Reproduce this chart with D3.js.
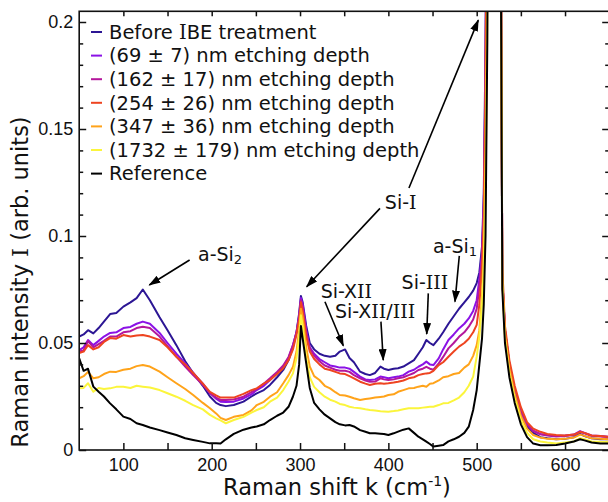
<!DOCTYPE html>
<meta charset="utf-8">
<html>
<head>
    <title>Raman spectra after IBE</title>
    <style>
        body { margin: 0; background: #fff; }
        .tick text { font-family: "Liberation Sans", Arial, sans-serif; font-size: 18px; fill: #111; }
        .lbl { font-family: "DejaVu Sans", Verdana, sans-serif; fill: #111; }
        .serifI { font-family: "DejaVu Serif", serif; }
    </style>
    <script src="https://d3js.org/d3.v7.min.js"></script>
</head>
<body>
<div id="chart"></div>
<script>
    // Raman shift sample positions (cm^-1), shared by every spectrum
    var ramanShift = [50, 55, 60, 66, 72, 78, 85, 92, 100, 108, 115, 122, 130, 141, 150, 160, 170, 179, 190, 198,
        205, 210, 216, 225, 236, 245, 251, 259, 266, 274, 281, 287, 292, 296, 299, 301, 303, 307, 311, 316,
        322, 328, 334, 340, 345, 351, 356, 361, 368, 374, 379, 385, 391, 395, 400, 406, 411, 417, 423, 429,
        434, 439, 443, 447, 451, 457, 462, 468, 474, 480, 486, 491, 496, 500, 503, 506, 508, 510, 512, 515,
        518, 521, 524, 527, 529, 532, 537, 543, 550, 557, 564, 572, 580, 590, 600, 610, 617, 622, 630, 640, 650];

    var beforeIBE = [0.053, 0.054, 0.056, 0.0545, 0.057, 0.060, 0.0635, 0.064, 0.067, 0.069, 0.071, 0.075, 0.070, 0.062, 0.056, 0.049, 0.0415, 0.036, 0.030, 0.025,
        0.022, 0.021, 0.0205, 0.021, 0.0226, 0.025, 0.0265, 0.028, 0.0304, 0.034, 0.0374, 0.042, 0.048, 0.055, 0.064, 0.072, 0.069, 0.058, 0.050, 0.047,
        0.045, 0.044, 0.0436, 0.044, 0.046, 0.047, 0.043, 0.041, 0.0366, 0.0355, 0.035, 0.036, 0.039, 0.038, 0.0374, 0.038, 0.0382, 0.039, 0.0405, 0.042,
        0.045, 0.048, 0.0514, 0.050, 0.049, 0.052, 0.055, 0.059, 0.0625, 0.066, 0.069, 0.0715, 0.0745, 0.078, 0.083, 0.095, 0.12, 0.19, 0.32, 0.62,
        1.0, 0.9, 0.6, 0.28, 0.08, 0.056, 0.040, 0.027, 0.017, 0.011, 0.008, 0.006, 0.0055, 0.005, 0.0052, 0.006, 0.0075, 0.0065, 0.0055, 0.005, 0.005];

    var depth69 = [0.0467, 0.048, 0.0514, 0.049, 0.051, 0.053, 0.0547, 0.055, 0.057, 0.0575, 0.059, 0.060, 0.059, 0.0547, 0.050, 0.045, 0.0405, 0.036, 0.031, 0.0266,
        0.024, 0.0226, 0.0224, 0.0226, 0.0241, 0.026, 0.028, 0.030, 0.0327, 0.036, 0.039, 0.043, 0.049, 0.055, 0.063, 0.071, 0.068, 0.056, 0.048, 0.045,
        0.0425, 0.041, 0.0395, 0.039, 0.0385, 0.0385, 0.038, 0.0365, 0.0343, 0.033, 0.0327, 0.033, 0.0343, 0.034, 0.0335, 0.034, 0.0343, 0.035, 0.0366, 0.0375,
        0.0389, 0.040, 0.0413, 0.040, 0.0397, 0.0428, 0.047, 0.0514, 0.054, 0.0568, 0.059, 0.0615, 0.065, 0.070, 0.080, 0.092, 0.115, 0.18, 0.30, 0.60,
        1.0, 0.9, 0.6, 0.28, 0.08, 0.056, 0.040, 0.028, 0.018, 0.012, 0.009, 0.0075, 0.007, 0.0065, 0.0068, 0.0072, 0.0088, 0.008, 0.0068, 0.0065, 0.0062];

    var depth162 = [0.046, 0.0465, 0.0509, 0.048, 0.0495, 0.051, 0.053, 0.053, 0.055, 0.0555, 0.057, 0.0576, 0.057, 0.053, 0.0485, 0.0436, 0.039, 0.035, 0.0305, 0.0266,
        0.0245, 0.0234, 0.0234, 0.0236, 0.0249, 0.027, 0.0285, 0.031, 0.0335, 0.0365, 0.0395, 0.0435, 0.049, 0.055, 0.062, 0.070, 0.067, 0.055, 0.0475, 0.044,
        0.0415, 0.0395, 0.0385, 0.0375, 0.037, 0.037, 0.0365, 0.035, 0.0335, 0.0325, 0.0319, 0.032, 0.0335, 0.033, 0.0327, 0.033, 0.0335, 0.034, 0.035, 0.036,
        0.0374, 0.038, 0.0389, 0.038, 0.0375, 0.0405, 0.0435, 0.0475, 0.050, 0.0529, 0.055, 0.0576, 0.061, 0.066, 0.076, 0.090, 0.112, 0.175, 0.30, 0.60,
        1.0, 0.9, 0.6, 0.28, 0.08, 0.056, 0.040, 0.028, 0.018, 0.012, 0.0088, 0.0073, 0.0068, 0.0063, 0.0065, 0.007, 0.0085, 0.0078, 0.0066, 0.0063, 0.006];

    var depth254 = [0.0453, 0.046, 0.049, 0.047, 0.048, 0.0505, 0.0523, 0.052, 0.0537, 0.053, 0.0535, 0.0537, 0.053, 0.0514, 0.048, 0.0436, 0.040, 0.036, 0.031, 0.0272,
        0.0255, 0.0245, 0.0245, 0.0245, 0.0262, 0.028, 0.0288, 0.031, 0.0327, 0.0355, 0.0382, 0.042, 0.047, 0.054, 0.061, 0.069, 0.065, 0.053, 0.046, 0.0425,
        0.040, 0.038, 0.0374, 0.0365, 0.0358, 0.0355, 0.0345, 0.0335, 0.0319, 0.031, 0.0304, 0.031, 0.0312, 0.031, 0.0312, 0.0315, 0.0319, 0.0325, 0.0335, 0.034,
        0.035, 0.0355, 0.0358, 0.036, 0.037, 0.0397, 0.041, 0.0436, 0.046, 0.0483, 0.050, 0.052, 0.055, 0.0585, 0.068, 0.085, 0.108, 0.17, 0.30, 0.60,
        1.0, 0.9, 0.6, 0.28, 0.085, 0.058, 0.042, 0.030, 0.020, 0.013, 0.010, 0.0085, 0.0075, 0.007, 0.0068, 0.0072, 0.0085, 0.008, 0.0068, 0.0065, 0.0062];

    var depth347 = [0.0335, 0.0345, 0.0365, 0.0335, 0.034, 0.0355, 0.0366, 0.0365, 0.0375, 0.038, 0.0392, 0.0397, 0.039, 0.0366, 0.034, 0.0312, 0.0285, 0.0257, 0.022, 0.0195,
        0.0171, 0.015, 0.014, 0.0155, 0.0164, 0.0185, 0.021, 0.0225, 0.0249, 0.027, 0.0312, 0.035, 0.0389, 0.046, 0.056, 0.066, 0.062, 0.048, 0.039, 0.0345,
        0.0327, 0.030, 0.0288, 0.027, 0.0257, 0.0255, 0.0249, 0.0242, 0.0234, 0.0238, 0.0241, 0.0245, 0.0248, 0.025, 0.0257, 0.026, 0.0272, 0.028, 0.0288, 0.029,
        0.0296, 0.030, 0.0296, 0.031, 0.0312, 0.0325, 0.034, 0.0345, 0.0355, 0.036, 0.0385, 0.040, 0.044, 0.049, 0.056, 0.072, 0.092, 0.14, 0.22, 0.50,
        1.0, 0.9, 0.6, 0.28, 0.08, 0.054, 0.038, 0.026, 0.016, 0.010, 0.007, 0.0058, 0.0052, 0.005, 0.0052, 0.0058, 0.0072, 0.0066, 0.0055, 0.0052, 0.005];

    var depth1732 = [0.0288, 0.029, 0.0312, 0.0272, 0.029, 0.0285, 0.0288, 0.0295, 0.0296, 0.029, 0.030, 0.0296, 0.0292, 0.028, 0.0265, 0.0249, 0.023, 0.021, 0.019, 0.0164,
        0.0148, 0.0138, 0.0125, 0.014, 0.0155, 0.0175, 0.0187, 0.020, 0.0226, 0.0245, 0.028, 0.032, 0.0358, 0.043, 0.053, 0.063, 0.058, 0.043, 0.034, 0.0295,
        0.027, 0.0249, 0.0235, 0.0226, 0.0215, 0.021, 0.0202, 0.0198, 0.0195, 0.019, 0.0187, 0.0185, 0.0181, 0.018, 0.0179, 0.0182, 0.0185, 0.019, 0.0195, 0.0195,
        0.0195, 0.0198, 0.020, 0.0202, 0.0202, 0.021, 0.0218, 0.022, 0.0232, 0.0245, 0.027, 0.030, 0.0343, 0.0436, 0.053, 0.068, 0.085, 0.12, 0.20, 0.45,
        1.0, 0.9, 0.6, 0.27, 0.078, 0.052, 0.036, 0.024, 0.014, 0.008, 0.005, 0.004, 0.0035, 0.003, 0.0035, 0.004, 0.0055, 0.005, 0.004, 0.0038, 0.0037];

    var reference = [0.0428, 0.037, 0.038, 0.0296, 0.0272, 0.025, 0.0218, 0.019, 0.0156, 0.0145, 0.0125, 0.0117, 0.0105, 0.0093, 0.0082, 0.007, 0.0055, 0.0047, 0.0038, 0.0031,
        0.0032, 0.003, 0.005, 0.0075, 0.0095, 0.0105, 0.011, 0.012, 0.014, 0.016, 0.0175, 0.0202, 0.025, 0.030, 0.040, 0.058, 0.052, 0.0405, 0.029, 0.022,
        0.019, 0.0165, 0.0148, 0.013, 0.012, 0.0115, 0.0117, 0.011, 0.0093, 0.0085, 0.0078, 0.0078, 0.0076, 0.0075, 0.007, 0.0078, 0.0086, 0.0095, 0.0101, 0.008,
        0.0062, 0.005, 0.0039, 0.0028, 0.0016, 0.002, 0.0023, 0.004, 0.005, 0.0062, 0.008, 0.0109, 0.0187, 0.028, 0.040, 0.052, 0.068, 0.10, 0.19, 0.45,
        1.0, 0.9, 0.6, 0.26, 0.075, 0.05, 0.034, 0.022, 0.012, 0.006, 0.003, 0.0022, 0.0022, 0.0023, 0.003, 0.004, 0.005, 0.0045, 0.0035, 0.003, 0.003];

    var seriesNames = ["Before IBE treatment", "(69 \u00b1 7) nm etching depth", "(162 \u00b1 17) nm etching depth",
        "(254 \u00b1 26) nm etching depth", "(347 \u00b1 36) nm etching depth", "(1732 \u00b1 179) nm etching depth", "Reference"];
    var seriesValues = [beforeIBE, depth69, depth162, depth254, depth347, depth1732, reference];
    var seriesColors = ["#2c1694", "#8b12e6", "#b4179c", "#ee4420", "#ffa31a", "#fbf53c", "#000000"];

    var xTickValues = [100, 150, 200, 250, 300, 350, 400, 450, 500, 550, 600];
    var xTickLabels = [100, 200, 300, 400, 500, 600];
    var yMajorTicks = [0, 0.05, 0.1, 0.15, 0.2];

    // annotations: text anchor and arrow tail/tip, all in data units
    var annotations = [
        { text: "a-Si", sub: "2", at: [184.5, 0.0883], arrows: [[[175, 0.0888], [129.4, 0.0771]]] },
        { text: "Si-I", at: [396, 0.1124], arrows: [[[390.5, 0.1129], [307.5, 0.0763]], [[423.3, 0.1224], [501.8, 0.2009]]] },
        { text: "Si-XII", at: [323.4, 0.0709], arrows: [[[328.2, 0.0693], [349, 0.0487]]] },
        { text: "Si-XII/III", at: [339.6, 0.0615], arrows: [[[391.6, 0.060], [394.2, 0.042]]] },
        { text: "Si-III", at: [415, 0.0751], arrows: [[[445.2, 0.0732], [443.4, 0.0542]]] },
        { text: "a-Si", sub: "1", at: [450.5, 0.0919], arrows: [[[480.3, 0.0907], [475.4, 0.0693]]] }
    ];

    var width = 608, height = 502;
    var x = d3.scaleLinear().domain([50, 650]).range([79.2, 609.2]);
    var y = d3.scaleLinear().domain([0, 0.205]).range([450, 11.3]);

    // writes a string into a text node, the capital I set with slab serifs as in Verdana
    function writeText(sel, str) {
        str.split(/(I)/).forEach(function (part) {
            if (part === "I") sel.append("tspan").attr("class", "serifI").text("I");
            else if (part) sel.append("tspan").text(part);
        });
        return sel;
    }

    var svg = d3.select("#chart").append("svg")
        .attr("width", width)
        .attr("height", height);

    var defs = svg.append("defs");
    defs.append("clipPath").attr("id", "plotclip")
        .append("rect")
        .attr("x", x(50)).attr("y", y(0.205))
        .attr("width", x(650) - x(50)).attr("height", y(0) - y(0.205));

    defs.append("marker")
        .attr("id", "arrow")
        .attr("markerUnits", "userSpaceOnUse")
        .attr("viewBox", "0 0 12 8")
        .attr("refX", 11).attr("refY", 4)
        .attr("markerWidth", 12).attr("markerHeight", 8)
        .attr("orient", "auto")
        .append("path").attr("d", "M0,0 L12,4 L0,8 Z").attr("fill", "#000");

    // spectra
    var line = d3.line()
        .x(function (d) { return x(d[0]); })
        .y(function (d) { return y(d[1]); });

    var plot = svg.append("g").attr("clip-path", "url(#plotclip)");
    seriesValues.forEach(function (vals, i) {
        var pts = ramanShift.map(function (k, j) { return [k, vals[j]]; });
        plot.append("path")
            .datum(pts)
            .attr("d", line)
            .attr("fill", "none")
            .attr("stroke", seriesColors[i])
            .attr("stroke-width", 2)
            .attr("stroke-linejoin", "round");
    });

    // axes (ticks point inwards)
    var xAxisB = d3.axisBottom(x).tickValues(xTickValues).tickSize(-7).tickPadding(8)
        .tickFormat(function (d) { return xTickLabels.indexOf(d) >= 0 ? d : ""; });
    svg.append("g").attr("transform", "translate(0," + y(0) + ")").call(xAxisB);

    var xAxisT = d3.axisTop(x).tickValues(xTickValues).tickSize(-5).tickFormat("");
    svg.append("g").attr("transform", "translate(0," + y(0.205) + ")").call(xAxisT);

    var yMinor = d3.range(1, 21).map(function (i) { return i / 100; })
        .filter(function (v) { return yMajorTicks.indexOf(+v.toFixed(2)) < 0; });

    var yAxisL = d3.axisLeft(y).tickValues(yMajorTicks).tickSize(-7).tickPadding(6)
        .tickFormat(function (d) { return String(+d.toFixed(2)); });
    svg.append("g").attr("transform", "translate(" + x(50) + ",0)").call(yAxisL);
    svg.append("g").attr("transform", "translate(" + x(50) + ",0)")
        .call(d3.axisLeft(y).tickValues(yMinor).tickSize(-4).tickFormat(""));

    svg.append("g").attr("transform", "translate(" + x(650) + ",0)")
        .call(d3.axisRight(y).tickValues(yMajorTicks).tickSize(-7).tickFormat(""));
    svg.append("g").attr("transform", "translate(" + x(650) + ",0)")
        .call(d3.axisRight(y).tickValues(yMinor).tickSize(-4).tickFormat(""));

    svg.selectAll(".domain").remove();
    svg.selectAll(".tick line").attr("stroke", "#111").attr("stroke-width", 1.5);

    svg.append("rect")
        .attr("x", x(50)).attr("y", y(0.205))
        .attr("width", x(650) - x(50)).attr("height", y(0) - y(0.205))
        .attr("fill", "none").attr("stroke", "#111").attr("stroke-width", 1.6);

    // axis titles
    var xt = svg.append("text").attr("class", "lbl")
        .attr("x", 337).attr("y", 495)
        .attr("text-anchor", "middle").style("font-size", "22.5px")
        .text("Raman shift k (cm");
    xt.append("tspan").attr("dy", -9).style("font-size", "14px").text("-1");
    xt.append("tspan").attr("dy", 9).text(")");

    writeText(svg.append("text").attr("class", "lbl")
        .attr("transform", "translate(28,282) rotate(-90)")
        .attr("text-anchor", "middle").style("font-size", "22.5px"),
        "Raman intensity I (arb. units)");

    // legend
    var legend = svg.append("g").attr("transform", "translate(91,32)");
    seriesNames.forEach(function (name, i) {
        var row = legend.append("g").attr("transform", "translate(0," + (i * 23.6) + ")");
        row.append("line").attr("x1", 0).attr("x2", 11).attr("y1", 0).attr("y2", 0)
            .attr("stroke", seriesColors[i]).attr("stroke-width", 2);
        writeText(row.append("text").attr("class", "lbl")
            .attr("x", 18).attr("y", 6.8)
            .style("font-size", "19.5px"), name);
    });

    // annotations
    annotations.forEach(function (a) {
        var t = writeText(svg.append("text").attr("class", "lbl")
            .attr("x", x(a.at[0])).attr("y", y(a.at[1]))
            .style("font-size", "19px"), a.text);
        if (a.sub) {
            t.append("tspan").attr("dy", 3).style("font-size", "13px").text(a.sub);
        }
        a.arrows.forEach(function (ar) {
            svg.append("line")
                .attr("x1", x(ar[0][0])).attr("y1", y(ar[0][1]))
                .attr("x2", x(ar[1][0])).attr("y2", y(ar[1][1]))
                .attr("stroke", "#000").attr("stroke-width", 1.6)
                .attr("marker-end", "url(#arrow)");
        });
    });
</script>
</body>
</html>
